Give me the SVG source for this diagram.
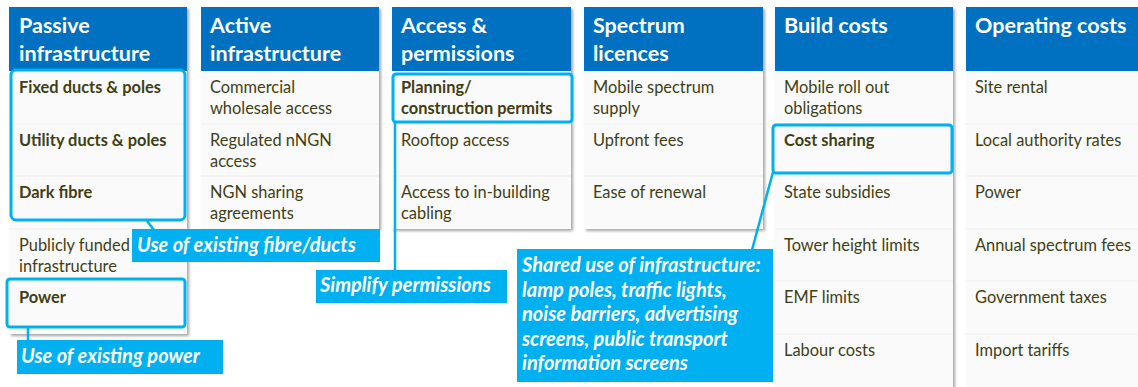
<svg xmlns="http://www.w3.org/2000/svg" width="1138" height="387" viewBox="0 0 1138 387">
<defs>
<filter id="sh" x="-5%" y="-5%" width="115%" height="115%">
<feDropShadow dx="2" dy="2" stdDeviation="1.5" flood-color="#000" flood-opacity="0.35"/>
</filter>
<style>
.hd{fill:#0070c0}
.body{fill:#fafafa}
.sep{stroke:#eeeeee;stroke-width:1}
.ht{font-family:Lato,"Open Sans",sans-serif;font-weight:bold;font-size:21.5px;fill:#fff}
.t{font-family:Lato,"Open Sans",sans-serif;font-size:16.4px;fill:#3f3f14}
.b{font-weight:bold}
.hl{fill:none;stroke:#00b0f0;stroke-width:3}
.co{fill:#00b0f0}
.ct{font-family:Lato,"Open Sans",sans-serif;font-weight:bold;font-style:italic;font-size:20px;fill:#fff}
.ln{stroke:#00b0f0;stroke-width:2.5;fill:none}
</style>
</defs>
<rect width="1138" height="387" fill="#fff"/>

<g id="col-passive">
<g filter="url(#sh)"><rect class="body" x="9" y="7" width="178" height="327"/><rect class="hd" x="9" y="7" width="178" height="64"/></g>
<line class="sep" x1="9" y1="124" x2="187" y2="124"/><line class="sep" x1="9" y1="176" x2="187" y2="176"/><line class="sep" x1="9" y1="229" x2="187" y2="229"/><line class="sep" x1="9" y1="281" x2="187" y2="281"/>
<text class="ht" x="19" y="33">Passive</text><text class="ht" x="19" y="61">infrastructure</text>
<text class="t b" x="19" y="93">Fixed ducts &amp; poles</text>
<text class="t b" x="19" y="146">Utility ducts &amp; poles</text>
<text class="t b" x="19" y="198">Dark fibre</text>
<text class="t" x="19" y="251">Publicly funded</text><text class="t" x="19" y="272">infrastructure</text>
<text class="t b" x="19" y="303">Power</text>
</g>

<g id="col-active">
<g filter="url(#sh)"><rect class="body" x="201" y="7" width="178" height="222"/><rect class="hd" x="201" y="7" width="178" height="64"/></g>
<line class="sep" x1="201" y1="124" x2="379" y2="124"/><line class="sep" x1="201" y1="176" x2="379" y2="176"/>
<text class="ht" x="210" y="33">Active</text><text class="ht" x="210" y="61">infrastructure</text>
<text class="t" x="210" y="93">Commercial</text><text class="t" x="210" y="114">wholesale access</text>
<text class="t" x="210" y="146">Regulated nNGN</text><text class="t" x="210" y="167">access</text>
<text class="t" x="210" y="198">NGN sharing</text><text class="t" x="210" y="219">agreements</text>
</g>

<g id="col-access">
<g filter="url(#sh)"><rect class="body" x="392" y="7" width="179" height="222"/><rect class="hd" x="392" y="7" width="179" height="64"/></g>
<line class="sep" x1="392" y1="124" x2="571" y2="124"/><line class="sep" x1="392" y1="176" x2="571" y2="176"/>
<text class="ht" x="401" y="33">Access &amp;</text><text class="ht" x="401" y="61">permissions</text>
<text class="t b" x="401" y="93">Planning/</text><text class="t b" x="401" y="114">construction permits</text>
<text class="t" x="401" y="146">Rooftop access</text>
<text class="t" x="401" y="198">Access to in-building</text><text class="t" x="401" y="219">cabling</text>
</g>

<g id="col-spectrum">
<g filter="url(#sh)"><rect class="body" x="584" y="7" width="179" height="222"/><rect class="hd" x="584" y="7" width="179" height="64"/></g>
<line class="sep" x1="584" y1="124" x2="763" y2="124"/><line class="sep" x1="584" y1="176" x2="763" y2="176"/>
<text class="ht" x="593" y="33">Spectrum</text><text class="ht" x="593" y="61">licences</text>
<text class="t" x="593" y="93">Mobile spectrum</text><text class="t" x="593" y="114">supply</text>
<text class="t" x="593" y="146">Upfront fees</text>
<text class="t" x="593" y="198">Ease of renewal</text>
</g>

<g id="col-build">
<g filter="url(#sh)"><rect class="body" x="775" y="7" width="178" height="390"/><rect class="hd" x="775" y="7" width="178" height="64"/></g>
<line class="sep" x1="775" y1="124" x2="953" y2="124"/><line class="sep" x1="775" y1="176" x2="953" y2="176"/><line class="sep" x1="775" y1="229" x2="953" y2="229"/><line class="sep" x1="775" y1="281" x2="953" y2="281"/><line class="sep" x1="775" y1="334" x2="953" y2="334"/>
<text class="ht" x="784" y="33">Build costs</text>
<text class="t" x="784" y="93">Mobile roll out</text><text class="t" x="784" y="114">obligations</text>
<text class="t b" x="784" y="146">Cost sharing</text>
<text class="t" x="784" y="198">State subsidies</text>
<text class="t" x="784" y="251">Tower height limits</text>
<text class="t" x="784" y="303">EMF limits</text>
<text class="t" x="784" y="356">Labour costs</text>
</g>

<g id="col-operating">
<g filter="url(#sh)"><rect class="body" x="966" y="7" width="180" height="390"/><rect class="hd" x="966" y="7" width="180" height="64"/></g>
<line class="sep" x1="966" y1="124" x2="1138" y2="124"/><line class="sep" x1="966" y1="176" x2="1138" y2="176"/><line class="sep" x1="966" y1="229" x2="1138" y2="229"/><line class="sep" x1="966" y1="281" x2="1138" y2="281"/><line class="sep" x1="966" y1="334" x2="1138" y2="334"/>
<text class="ht" x="975" y="33">Operating costs</text>
<text class="t" x="975" y="93">Site rental</text>
<text class="t" x="975" y="146">Local authority rates</text>
<text class="t" x="975" y="198">Power</text>
<text class="t" x="975" y="251">Annual spectrum fees</text>
<text class="t" x="975" y="303">Government taxes</text>
<text class="t" x="975" y="356">Import tariffs</text>
</g>

<g id="highlights">
<rect id="hl-ducts" class="hl" x="11" y="70" width="174" height="150" rx="5"/>
<rect id="hl-power" class="hl" x="7" y="279" width="178" height="48" rx="3"/>
<rect id="hl-planning" class="hl" x="393" y="74" width="179" height="48" rx="3"/>
<rect id="hl-cost" class="hl" x="773" y="125" width="179" height="48" rx="3"/>
</g>

<g id="connectors">
<line class="ln" x1="147" y1="221" x2="154" y2="230"/>
<line class="ln" x1="28" y1="327" x2="28" y2="341"/>
<line class="ln" x1="395" y1="122" x2="395" y2="271"/>
<line class="ln" x1="773" y1="172" x2="752" y2="250"/>
</g>

<g id="callout-fibre">
<rect class="co" x="132" y="229" width="248" height="33"/>
<text class="ct" x="137" y="252">Use of existing fibre/ducts</text>
</g>
<g id="callout-power">
<rect class="co" x="17" y="340" width="206" height="34"/>
<text class="ct" x="21" y="363">Use of existing power</text>
</g>
<g id="callout-permissions">
<rect class="co" x="316" y="270" width="191" height="33"/>
<text class="ct" x="320" y="292">Simplify permissions</text>
</g>
<g id="callout-shared">
<rect class="co" x="517" y="249" width="256" height="133"/>
<text class="ct" x="522" y="272">Shared use of infrastructure:</text>
<text class="ct" x="522" y="297">lamp poles, traffic lights,</text>
<text class="ct" x="522" y="321">noise barriers, advertising</text>
<text class="ct" x="522" y="346">screens, public transport</text>
<text class="ct" x="522" y="370">information screens</text>
</g>
</svg>
